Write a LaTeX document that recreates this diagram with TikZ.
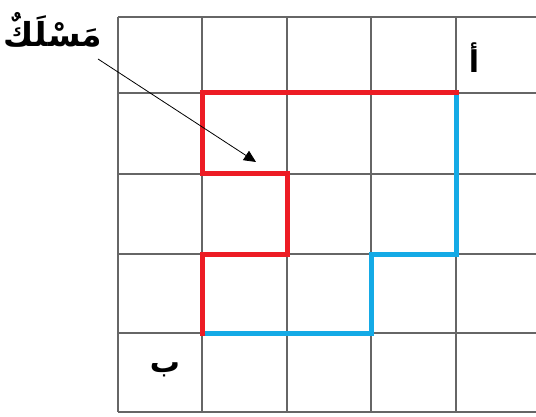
\documentclass[tikz,border=0pt]{standalone}
\usepackage{fontspec}
\usetikzlibrary{arrows.meta}
\TeXXeTstate=1
\newfontfamily\arabicfont[Script=Arabic]{DejaVu Sans}
\tikzset{
  gridline/.style={draw=black!60, line width=1.2pt},
  redpath/.style={draw={rgb,255:red,237;green,28;blue,36}, line width=5pt, line join=miter, line cap=rect},
  bluepath/.style={draw={rgb,255:red,20;green,170;blue,230}, line width=5pt, line join=miter, line cap=rect},
  lbl/.style={font=\arabicfont\bfseries\fontsize{33}{38}\selectfont, inner sep=0pt},
  letter/.style={font=\arabicfont\bfseries\fontsize{30}{36}\selectfont, inner sep=0pt},
  pointer/.style={draw=black, line width=0.8pt, -{Triangle[length=12pt,width=11pt]}}
}
\begin{document}
\begin{tikzpicture}[x=1pt,y=-1pt]
\useasboundingbox (0,0) rectangle (536,417);
\begin{scope}
\clip (0,0) rectangle (536,417);
% grid
\foreach \x in {118,202,287,371,456,540} \draw[gridline] (\x,17) -- (\x,412);
\foreach \y in {17,93,174,254,333,412} \draw[gridline] (118,\y) -- (540,\y);
\end{scope}
% coordinates
\coordinate (a) at (456,93);
\coordinate (r1) at (202,93);
\coordinate (r2) at (202,174);
\coordinate (r3) at (287,174);
\coordinate (r4) at (287,254);
\coordinate (r5) at (202,254);
\coordinate (b) at (202,333);
\coordinate (q1) at (456,254);
\coordinate (q2) at (371,254);
\coordinate (q3) at (371,333);
\draw[bluepath] (a) -- (q1) -- (q2) -- (q3) -- (b);
\draw[redpath] (a) -- (r1) -- (r2) -- (r3) -- (r4) -- (r5) -- (b);
% labels
\node[lbl] (path) at (53,30) {\beginR مَسْلَكٌ\endR};
\node[letter] (alef) at (474,58) {\beginR أ\endR};
\node[letter] (beh) at (165,370) {\beginR ب\endR};
\coordinate (tip) at (256,162);
\coordinate (start) at (98,59);
\draw[pointer] (start) -- (tip);
\end{tikzpicture}
\end{document}
